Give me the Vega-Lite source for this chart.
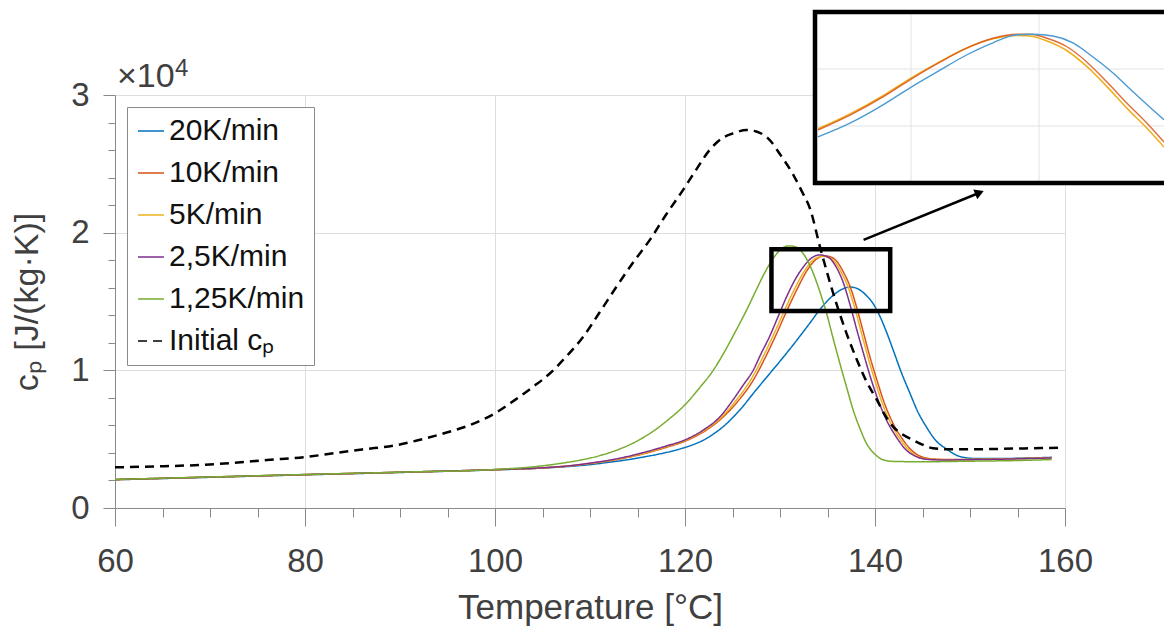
{
"$schema":"https://vega.github.io/schema/vega-lite/v6.json",
"width":950,"height":413,
"autosize":{"type":"none"},
"padding":{"left":115,"top":95,"right":99,"bottom":118},
"config":{
 "view":{"stroke":null},
 "font":"Liberation Sans",
 "axis":{"domainColor":"#8a8a8a","tickColor":"#8a8a8a","gridColor":"#dedede","labelColor":"#404040","titleColor":"#404040","labelFont":"Liberation Sans","titleFont":"Liberation Sans","titleFontWeight":"normal","domainWidth":1,"tickWidth":1},
 "legend":{"labelFont":"Liberation Sans","labelFontSize":30,"labelColor":"#111111","symbolType":"stroke","symbolSize":676,"symbolStrokeWidth":1.6,"strokeColor":"#8a8a8a","fillColor":"white","padding":9,"rowPadding":12,"labelOffset":3,"labelLimit":400}
},
"datasets":{
 "rates":[
  {"series":"20K/min","T":60,"v":2050},{"series":"20K/min","T":70,"v":2230},{"series":"20K/min","T":80,"v":2410},{"series":"20K/min","T":90,"v":2580},{"series":"20K/min","T":100,"v":2770},{"series":"20K/min","T":105,"v":2900},{"series":"20K/min","T":108,"v":3030},{"series":"20K/min","T":110,"v":3150},{"series":"20K/min","T":112,"v":3320},{"series":"20K/min","T":114,"v":3510},{"series":"20K/min","T":116,"v":3750},{"series":"20K/min","T":117,"v":3880},{"series":"20K/min","T":118,"v":4030},{"series":"20K/min","T":119,"v":4200},{"series":"20K/min","T":120,"v":4400},{"series":"20K/min","T":121,"v":4640},{"series":"20K/min","T":122,"v":4950},{"series":"20K/min","T":123,"v":5380},{"series":"20K/min","T":124,"v":5900},{"series":"20K/min","T":125,"v":6550},{"series":"20K/min","T":126,"v":7300},{"series":"20K/min","T":127.2,"v":8334},{"series":"20K/min","T":128.5,"v":9420},{"series":"20K/min","T":130,"v":10660},{"series":"20K/min","T":131.5,"v":11950},{"series":"20K/min","T":133,"v":13300},{"series":"20K/min","T":134.3,"v":14500},{"series":"20K/min","T":135.6,"v":15450},{"series":"20K/min","T":136.5,"v":15880},{"series":"20K/min","T":137.4,"v":16050},{"series":"20K/min","T":138.2,"v":15920},{"series":"20K/min","T":139,"v":15500},{"series":"20K/min","T":139.7,"v":14950},{"series":"20K/min","T":140.4,"v":14100},{"series":"20K/min","T":141.2,"v":12800},{"series":"20K/min","T":141.9,"v":11500},{"series":"20K/min","T":142.8,"v":9800},{"series":"20K/min","T":143.7,"v":8300},{"series":"20K/min","T":144.5,"v":7000},{"series":"20K/min","T":145.4,"v":5900},{"series":"20K/min","T":146.4,"v":4900},{"series":"20K/min","T":147.5,"v":4300},{"series":"20K/min","T":148.9,"v":3750},{"series":"20K/min","T":150.5,"v":3600},{"series":"20K/min","T":153,"v":3590},{"series":"20K/min","T":156,"v":3630},{"series":"20K/min","T":158.6,"v":3680},
  {"series":"10K/min","T":60,"v":2060},{"series":"10K/min","T":70,"v":2240},{"series":"10K/min","T":80,"v":2420},{"series":"10K/min","T":90,"v":2590},{"series":"10K/min","T":100,"v":2780},{"series":"10K/min","T":105,"v":2910},{"series":"10K/min","T":108,"v":3070},{"series":"10K/min","T":110,"v":3230},{"series":"10K/min","T":112,"v":3420},{"series":"10K/min","T":114,"v":3680},{"series":"10K/min","T":116,"v":4000},{"series":"10K/min","T":118,"v":4400},{"series":"10K/min","T":120,"v":4850},{"series":"10K/min","T":122,"v":5550},{"series":"10K/min","T":124,"v":6600},{"series":"10K/min","T":125.5,"v":7700},{"series":"10K/min","T":127.2,"v":9300},{"series":"10K/min","T":128.5,"v":11000},{"series":"10K/min","T":129.6,"v":12600},{"series":"10K/min","T":130.7,"v":14300},{"series":"10K/min","T":131.8,"v":15900},{"series":"10K/min","T":132.8,"v":17200},{"series":"10K/min","T":133.7,"v":18000},{"series":"10K/min","T":134.7,"v":18320},{"series":"10K/min","T":135.3,"v":18250},{"series":"10K/min","T":136,"v":17900},{"series":"10K/min","T":136.7,"v":17100},{"series":"10K/min","T":137.4,"v":16050},{"series":"10K/min","T":138.1,"v":14500},{"series":"10K/min","T":138.8,"v":12700},{"series":"10K/min","T":139.5,"v":10900},{"series":"10K/min","T":140.2,"v":9300},{"series":"10K/min","T":141,"v":7600},{"series":"10K/min","T":141.9,"v":6150},{"series":"10K/min","T":143,"v":4900},{"series":"10K/min","T":144,"v":4100},{"series":"10K/min","T":145,"v":3700},{"series":"10K/min","T":146.4,"v":3550},{"series":"10K/min","T":148,"v":3520},{"series":"10K/min","T":151,"v":3540},{"series":"10K/min","T":155,"v":3590},{"series":"10K/min","T":158.6,"v":3660},
  {"series":"5K/min","T":60,"v":2065},{"series":"5K/min","T":70,"v":2245},{"series":"5K/min","T":80,"v":2425},{"series":"5K/min","T":90,"v":2595},{"series":"5K/min","T":100,"v":2785},{"series":"5K/min","T":105,"v":2915},{"series":"5K/min","T":108,"v":3070},{"series":"5K/min","T":110,"v":3240},{"series":"5K/min","T":112,"v":3440},{"series":"5K/min","T":114,"v":3700},{"series":"5K/min","T":116,"v":4030},{"series":"5K/min","T":118,"v":4450},{"series":"5K/min","T":120,"v":4900},{"series":"5K/min","T":122,"v":5620},{"series":"5K/min","T":124,"v":6700},{"series":"5K/min","T":125.3,"v":7750},{"series":"5K/min","T":127,"v":9400},{"series":"5K/min","T":128.3,"v":11100},{"series":"5K/min","T":129.4,"v":12700},{"series":"5K/min","T":130.5,"v":14400},{"series":"5K/min","T":131.6,"v":16000},{"series":"5K/min","T":132.6,"v":17250},{"series":"5K/min","T":133.5,"v":18020},{"series":"5K/min","T":134.5,"v":18280},{"series":"5K/min","T":135.1,"v":18200},{"series":"5K/min","T":135.8,"v":17850},{"series":"5K/min","T":136.5,"v":17050},{"series":"5K/min","T":137.2,"v":16000},{"series":"5K/min","T":137.9,"v":14450},{"series":"5K/min","T":138.6,"v":12650},{"series":"5K/min","T":139.3,"v":10850},{"series":"5K/min","T":140,"v":9250},{"series":"5K/min","T":140.8,"v":7550},{"series":"5K/min","T":141.7,"v":6100},{"series":"5K/min","T":142.8,"v":4850},{"series":"5K/min","T":143.8,"v":4050},{"series":"5K/min","T":144.8,"v":3650},{"series":"5K/min","T":146.2,"v":3530},{"series":"5K/min","T":148,"v":3510},{"series":"5K/min","T":151,"v":3530},{"series":"5K/min","T":155,"v":3580},{"series":"5K/min","T":158.6,"v":3650},
  {"series":"2,5K/min","T":60,"v":2070},{"series":"2,5K/min","T":70,"v":2250},{"series":"2,5K/min","T":80,"v":2430},{"series":"2,5K/min","T":90,"v":2600},{"series":"2,5K/min","T":100,"v":2790},{"series":"2,5K/min","T":105,"v":2920},{"series":"2,5K/min","T":108,"v":3080},{"series":"2,5K/min","T":110,"v":3260},{"series":"2,5K/min","T":112,"v":3470},{"series":"2,5K/min","T":114,"v":3750},{"series":"2,5K/min","T":116,"v":4100},{"series":"2,5K/min","T":118,"v":4500},{"series":"2,5K/min","T":120,"v":4950},{"series":"2,5K/min","T":122,"v":5700},{"series":"2,5K/min","T":123.7,"v":6640},{"series":"2,5K/min","T":125,"v":7800},{"series":"2,5K/min","T":126.1,"v":8900},{"series":"2,5K/min","T":127.2,"v":10028},{"series":"2,5K/min","T":128,"v":11200},{"series":"2,5K/min","T":128.9,"v":12450},{"series":"2,5K/min","T":129.8,"v":13900},{"series":"2,5K/min","T":130.7,"v":15350},{"series":"2,5K/min","T":131.6,"v":16600},{"series":"2,5K/min","T":132.5,"v":17550},{"series":"2,5K/min","T":133.3,"v":18150},{"series":"2,5K/min","T":134.2,"v":18385},{"series":"2,5K/min","T":134.8,"v":18300},{"series":"2,5K/min","T":135.3,"v":18100},{"series":"2,5K/min","T":136,"v":17400},{"series":"2,5K/min","T":136.7,"v":16300},{"series":"2,5K/min","T":137.4,"v":14700},{"series":"2,5K/min","T":138.1,"v":12900},{"series":"2,5K/min","T":138.8,"v":11200},{"series":"2,5K/min","T":139.5,"v":9550},{"series":"2,5K/min","T":140.3,"v":7900},{"series":"2,5K/min","T":141.2,"v":6400},{"series":"2,5K/min","T":142.2,"v":5200},{"series":"2,5K/min","T":143.3,"v":4200},{"series":"2,5K/min","T":144.3,"v":3750},{"series":"2,5K/min","T":145.4,"v":3540},{"series":"2,5K/min","T":147,"v":3490},{"series":"2,5K/min","T":150,"v":3510},{"series":"2,5K/min","T":155,"v":3570},{"series":"2,5K/min","T":158.6,"v":3640},
  {"series":"1,25K/min","T":60,"v":2075},{"series":"1,25K/min","T":70,"v":2255},{"series":"1,25K/min","T":80,"v":2435},{"series":"1,25K/min","T":90,"v":2605},{"series":"1,25K/min","T":100,"v":2800},{"series":"1,25K/min","T":104,"v":2990},{"series":"1,25K/min","T":107,"v":3250},{"series":"1,25K/min","T":109,"v":3480},{"series":"1,25K/min","T":111,"v":3800},{"series":"1,25K/min","T":113,"v":4250},{"series":"1,25K/min","T":115,"v":4880},{"series":"1,25K/min","T":116.7,"v":5600},{"series":"1,25K/min","T":118.3,"v":6450},{"series":"1,25K/min","T":120,"v":7500},{"series":"1,25K/min","T":121.5,"v":8700},{"series":"1,25K/min","T":123,"v":10028},{"series":"1,25K/min","T":124.2,"v":11400},{"series":"1,25K/min","T":125.4,"v":12935},{"series":"1,25K/min","T":126.5,"v":14400},{"series":"1,25K/min","T":127.5,"v":15842},{"series":"1,25K/min","T":128.4,"v":17100},{"series":"1,25K/min","T":129.3,"v":18144},{"series":"1,25K/min","T":130.1,"v":18800},{"series":"1,25K/min","T":130.9,"v":19040},{"series":"1,25K/min","T":131.5,"v":19000},{"series":"1,25K/min","T":132.1,"v":18750},{"series":"1,25K/min","T":132.8,"v":18100},{"series":"1,25K/min","T":133.5,"v":17055},{"series":"1,25K/min","T":134.2,"v":15700},{"series":"1,25K/min","T":134.9,"v":14148},{"series":"1,25K/min","T":135.6,"v":12300},{"series":"1,25K/min","T":136.3,"v":10514},{"series":"1,25K/min","T":137,"v":8800},{"series":"1,25K/min","T":137.7,"v":7122},{"series":"1,25K/min","T":138.4,"v":5800},{"series":"1,25K/min","T":139.1,"v":4700},{"series":"1,25K/min","T":140,"v":3900},{"series":"1,25K/min","T":140.9,"v":3488},{"series":"1,25K/min","T":142,"v":3380},{"series":"1,25K/min","T":145,"v":3360},{"series":"1,25K/min","T":150,"v":3400},{"series":"1,25K/min","T":155,"v":3450},{"series":"1,25K/min","T":158.6,"v":3520}
 ],
 "initial":[
  {"series":"Initial cₚ","T":60,"v":2955},{"series":"Initial cₚ","T":65,"v":3030},{"series":"Initial cₚ","T":68.9,"v":3125},{"series":"Initial cₚ","T":72,"v":3250},{"series":"Initial cₚ","T":76,"v":3488},{"series":"Initial cₚ","T":80,"v":3700},{"series":"Initial cₚ","T":83,"v":3972},{"series":"Initial cₚ","T":86,"v":4250},{"series":"Initial cₚ","T":89.7,"v":4578},{"series":"Initial cₚ","T":92,"v":4941},{"series":"Initial cₚ","T":95,"v":5500},{"series":"Initial cₚ","T":98,"v":6200},{"series":"Initial cₚ","T":100,"v":6880},{"series":"Initial cₚ","T":102,"v":7800},{"series":"Initial cₚ","T":104,"v":8800},{"series":"Initial cₚ","T":105.8,"v":9785},{"series":"Initial cₚ","T":107.5,"v":11000},{"series":"Initial cₚ","T":109.3,"v":12450},{"series":"Initial cₚ","T":111,"v":14200},{"series":"Initial cₚ","T":112.8,"v":16088},{"series":"Initial cₚ","T":114.5,"v":17800},{"series":"Initial cₚ","T":116.3,"v":19476},{"series":"Initial cₚ","T":118,"v":21300},{"series":"Initial cₚ","T":119.8,"v":23109},{"series":"Initial cₚ","T":121.2,"v":24600},{"series":"Initial cₚ","T":122.6,"v":26015},{"series":"Initial cₚ","T":124,"v":26900},{"series":"Initial cₚ","T":125.1,"v":27226},{"series":"Initial cₚ","T":126.5,"v":27450},{"series":"Initial cₚ","T":127.5,"v":27350},{"series":"Initial cₚ","T":128.9,"v":26742},{"series":"Initial cₚ","T":130,"v":25700},{"series":"Initial cₚ","T":131.4,"v":24200},{"series":"Initial cₚ","T":132.3,"v":23000},{"series":"Initial cₚ","T":133.2,"v":21660},{"series":"Initial cₚ","T":134.2,"v":18990},{"series":"Initial cₚ","T":135.6,"v":15600},{"series":"Initial cₚ","T":137,"v":12690},{"series":"Initial cₚ","T":138.1,"v":10755},{"series":"Initial cₚ","T":139.1,"v":9200},{"series":"Initial cₚ","T":140.2,"v":7848},{"series":"Initial cₚ","T":141,"v":6800},{"series":"Initial cₚ","T":141.9,"v":5911},{"series":"Initial cₚ","T":143,"v":5300},{"series":"Initial cₚ","T":144,"v":4941},{"series":"Initial cₚ","T":145,"v":4600},{"series":"Initial cₚ","T":146.1,"v":4337},{"series":"Initial cₚ","T":148,"v":4264},{"series":"Initial cₚ","T":150,"v":4264},{"series":"Initial cₚ","T":155,"v":4320},{"series":"Initial cₚ","T":159.5,"v":4380}
 ],
 "zoombox":[{"T":129.1,"T2":141.6,"v":14317,"v2":18800}],
 "arrow":[{"T":138.8,"v":19480,"T2":151.0,"v2":22900}],
 "mult":[{"T":60,"v":30000,"base":"×10","exp":"4"}],
 "insetBox":[{"x":132.5,"x2":138.6,"y":18200,"y2":18500}],
 "insetGridX":[{"x":134,"y":18200,"y2":18500},{"x":136,"y":18200,"y2":18500}],
 "insetGridY":[{"y":18300,"x":132.5,"x2":138.6},{"y":18400,"x":132.5,"x2":138.6}],
 "inset":[
  {"series":"20K/min","x":132.547,"y":18281},{"series":"20K/min","x":133.047,"y":18305},{"series":"20K/min","x":133.5625,"y":18337},{"series":"20K/min","x":133.984,"y":18367},{"series":"20K/min","x":134.453,"y":18398},{"series":"20K/min","x":134.875,"y":18425},{"series":"20K/min","x":135.281,"y":18446},{"series":"20K/min","x":135.656,"y":18460},{"series":"20K/min","x":135.906,"y":18461},{"series":"20K/min","x":136.219,"y":18458},{"series":"20K/min","x":136.531,"y":18446},{"series":"20K/min","x":136.844,"y":18421},{"series":"20K/min","x":137.156,"y":18393},{"series":"20K/min","x":137.469,"y":18360},{"series":"20K/min","x":137.781,"y":18328},{"series":"20K/min","x":137.953,"y":18311},
  {"series":"5K/min","x":132.547,"y":18295},{"series":"5K/min","x":133.047,"y":18321},{"series":"5K/min","x":133.5625,"y":18353},{"series":"5K/min","x":133.984,"y":18383},{"series":"5K/min","x":134.453,"y":18413},{"series":"5K/min","x":134.875,"y":18437},{"series":"5K/min","x":135.281,"y":18453},{"series":"5K/min","x":135.656,"y":18459},{"series":"5K/min","x":135.859,"y":18458},{"series":"5K/min","x":136.125,"y":18449},{"series":"5K/min","x":136.4375,"y":18432},{"series":"5K/min","x":136.75,"y":18404},{"series":"5K/min","x":137.0625,"y":18369},{"series":"5K/min","x":137.375,"y":18331},{"series":"5K/min","x":137.6875,"y":18296},{"series":"5K/min","x":137.953,"y":18263},
  {"series":"10K/min","x":132.547,"y":18293},{"series":"10K/min","x":133.047,"y":18319},{"series":"10K/min","x":133.5625,"y":18351},{"series":"10K/min","x":133.984,"y":18381},{"series":"10K/min","x":134.453,"y":18412},{"series":"10K/min","x":134.875,"y":18437},{"series":"10K/min","x":135.281,"y":18454},{"series":"10K/min","x":135.656,"y":18461},{"series":"10K/min","x":135.859,"y":18461},{"series":"10K/min","x":136.125,"y":18454},{"series":"10K/min","x":136.4375,"y":18439},{"series":"10K/min","x":136.75,"y":18412},{"series":"10K/min","x":137.0625,"y":18377},{"series":"10K/min","x":137.375,"y":18340},{"series":"10K/min","x":137.6875,"y":18305},{"series":"10K/min","x":137.953,"y":18272}
 ]
},
"layer":[
 {"layer":[
  {"data":{"name":"rates"},
   "mark":{"type":"line","strokeWidth":1.5,"interpolate":"monotone"},
   "encoding":{
    "x":{"field":"T","type":"quantitative","scale":{"domain":[60,160],"nice":false,"zero":false},
     "axis":{"title":"Temperature [°C]","values":[60,65,70,75,80,85,90,95,100,105,110,115,120,125,130,135,140,145,150,155,160],"tickCount":100,
      "labelExpr":"datum.value % 20 === 0 ? datum.label : ''","format":"d",
      "labelFontSize":{"condition":{"test":"datum.value % 20 === 0","value":33},"value":1},
      "tickSize":{"condition":{"test":"datum.value % 20 === 0","value":18},"value":9},
      "gridOpacity":{"condition":{"test":"datum.value % 20 === 0","value":1},"value":0},
      "labelPadding":19,"titleFontSize":35,"titlePadding":12,"labelOverlap":false,"labelFlush":false}},
    "y":{"field":"v","type":"quantitative","scale":{"domain":[0,30000],"nice":false,"zero":false},
     "axis":{"title":"cₚ [J/(kg·K)]","values":[0,2000,4000,6000,8000,10000,12000,14000,16000,18000,20000,22000,24000,26000,28000,30000],"tickCount":100,
      "labelExpr":"datum.value % 10000 === 0 ? format(datum.value/10000,'d') : ''",
      "labelFontSize":{"condition":{"test":"datum.value % 10000 === 0","value":33},"value":1},
      "tickSize":{"condition":{"test":"datum.value % 10000 === 0","value":12},"value":7},
      "gridOpacity":{"condition":{"test":"datum.value % 10000 === 0","value":1},"value":0},
      "labelPadding":14,"titleFontSize":34,"titlePadding":26,"labelOverlap":false,"labelFlush":false}},
    "color":{"field":"series","type":"nominal","scale":{"domain":["20K/min","10K/min","5K/min","2,5K/min","1,25K/min","Initial cₚ"],"range":["#0072BD","#D95319","#EDB120","#7E2F8E","#77AC30","#000000"]},
     "legend":{"title":null,"orient":"none","legendX":12,"legendY":12}},
    "strokeDash":{"field":"series","type":"nominal","scale":{"domain":["20K/min","10K/min","5K/min","2,5K/min","1,25K/min","Initial cₚ"],"range":[[1,0],[1,0],[1,0],[1,0],[1,0],[9,6]]},
     "legend":{"title":null,"orient":"none","legendX":12,"legendY":12}}
   }},
  {"data":{"name":"initial"},
   "mark":{"type":"line","strokeWidth":2.5,"interpolate":"monotone"},
   "encoding":{
    "x":{"field":"T","type":"quantitative"},
    "y":{"field":"v","type":"quantitative"},
    "color":{"field":"series","type":"nominal"},
    "strokeDash":{"field":"series","type":"nominal"}
   }},
  {"data":{"name":"zoombox"},
   "mark":{"type":"rect","fill":"transparent","stroke":"black","strokeWidth":4.5},
   "encoding":{"x":{"field":"T","type":"quantitative"},"x2":{"field":"T2"},"y":{"field":"v","type":"quantitative"},"y2":{"field":"v2"}}},
  {"data":{"name":"arrow"},
   "mark":{"type":"rule","stroke":"black","strokeWidth":2.5},
   "encoding":{"x":{"field":"T","type":"quantitative"},"x2":{"field":"T2"},"y":{"field":"v","type":"quantitative"},"y2":{"field":"v2"}}},
  {"data":{"name":"arrow"},
   "mark":{"type":"point","shape":"triangle-right","filled":true,"color":"black","size":110,"angle":338,"opacity":1},
   "encoding":{"x":{"field":"T2","type":"quantitative"},"y":{"field":"v2","type":"quantitative"}}},
  {"data":{"name":"mult"},
   "mark":{"type":"text","align":"left","baseline":"alphabetic","dx":2,"dy":-8,"fontSize":34,"color":"#404040","font":"Liberation Sans"},
   "encoding":{"x":{"field":"T","type":"quantitative"},"y":{"field":"v","type":"quantitative"},"text":{"field":"base"}}},
  {"data":{"name":"mult"},
   "mark":{"type":"text","align":"left","baseline":"alphabetic","dx":60,"dy":-19,"fontSize":24,"color":"#404040","font":"Liberation Sans"},
   "encoding":{"x":{"field":"T","type":"quantitative"},"y":{"field":"v","type":"quantitative"},"text":{"field":"exp"}}}
 ]},
 {"layer":[
  {"data":{"name":"insetBox"},
   "mark":{"type":"rect","fill":"white","stroke":null},
   "encoding":{"x":{"field":"x","type":"quantitative","scale":{"domain":[132.5,138.5],"range":[700,1084],"nice":false,"zero":false},"axis":null},"x2":{"field":"x2"},
    "y":{"field":"y","type":"quantitative","scale":{"domain":[18200,18500],"range":[88,-83],"nice":false,"zero":false},"axis":null},"y2":{"field":"y2"}}},
  {"data":{"name":"insetGridX"},
   "mark":{"type":"rule","stroke":"#e3e3e3","strokeWidth":1},
   "encoding":{"x":{"field":"x","type":"quantitative","axis":null},"y":{"field":"y","type":"quantitative","axis":null},"y2":{"field":"y2"}}},
  {"data":{"name":"insetGridY"},
   "mark":{"type":"rule","stroke":"#e3e3e3","strokeWidth":1},
   "encoding":{"y":{"field":"y","type":"quantitative","axis":null},"x":{"field":"x","type":"quantitative","axis":null},"x2":{"field":"x2"}}},
  {"data":{"name":"inset"},"transform":[{"filter":"datum.series === '5K/min'"}],
   "mark":{"type":"line","stroke":"#EDB120","strokeWidth":1.6,"interpolate":"monotone"},
   "encoding":{"x":{"field":"x","type":"quantitative","axis":null},"y":{"field":"y","type":"quantitative","axis":null}}},
  {"data":{"name":"inset"},"transform":[{"filter":"datum.series === '10K/min'"}],
   "mark":{"type":"line","stroke":"#D95319","strokeWidth":1.4,"opacity":0.85,"interpolate":"monotone"},
   "encoding":{"x":{"field":"x","type":"quantitative","axis":null},"y":{"field":"y","type":"quantitative","axis":null}}},
  {"data":{"name":"inset"},"transform":[{"filter":"datum.series === '20K/min'"}],
   "mark":{"type":"line","stroke":"#4a9ad4","strokeWidth":1.4,"interpolate":"monotone"},
   "encoding":{"x":{"field":"x","type":"quantitative","axis":null},"y":{"field":"y","type":"quantitative","axis":null}}},
  {"data":{"name":"insetBox"},
   "mark":{"type":"rect","fill":"transparent","stroke":"black","strokeWidth":4.5},
   "encoding":{"x":{"field":"x","type":"quantitative","axis":null},"x2":{"field":"x2"},"y":{"field":"y","type":"quantitative","axis":null},"y2":{"field":"y2"}}}
 ]}
],
"resolve":{"scale":{"x":"independent","y":"independent"}}
}
